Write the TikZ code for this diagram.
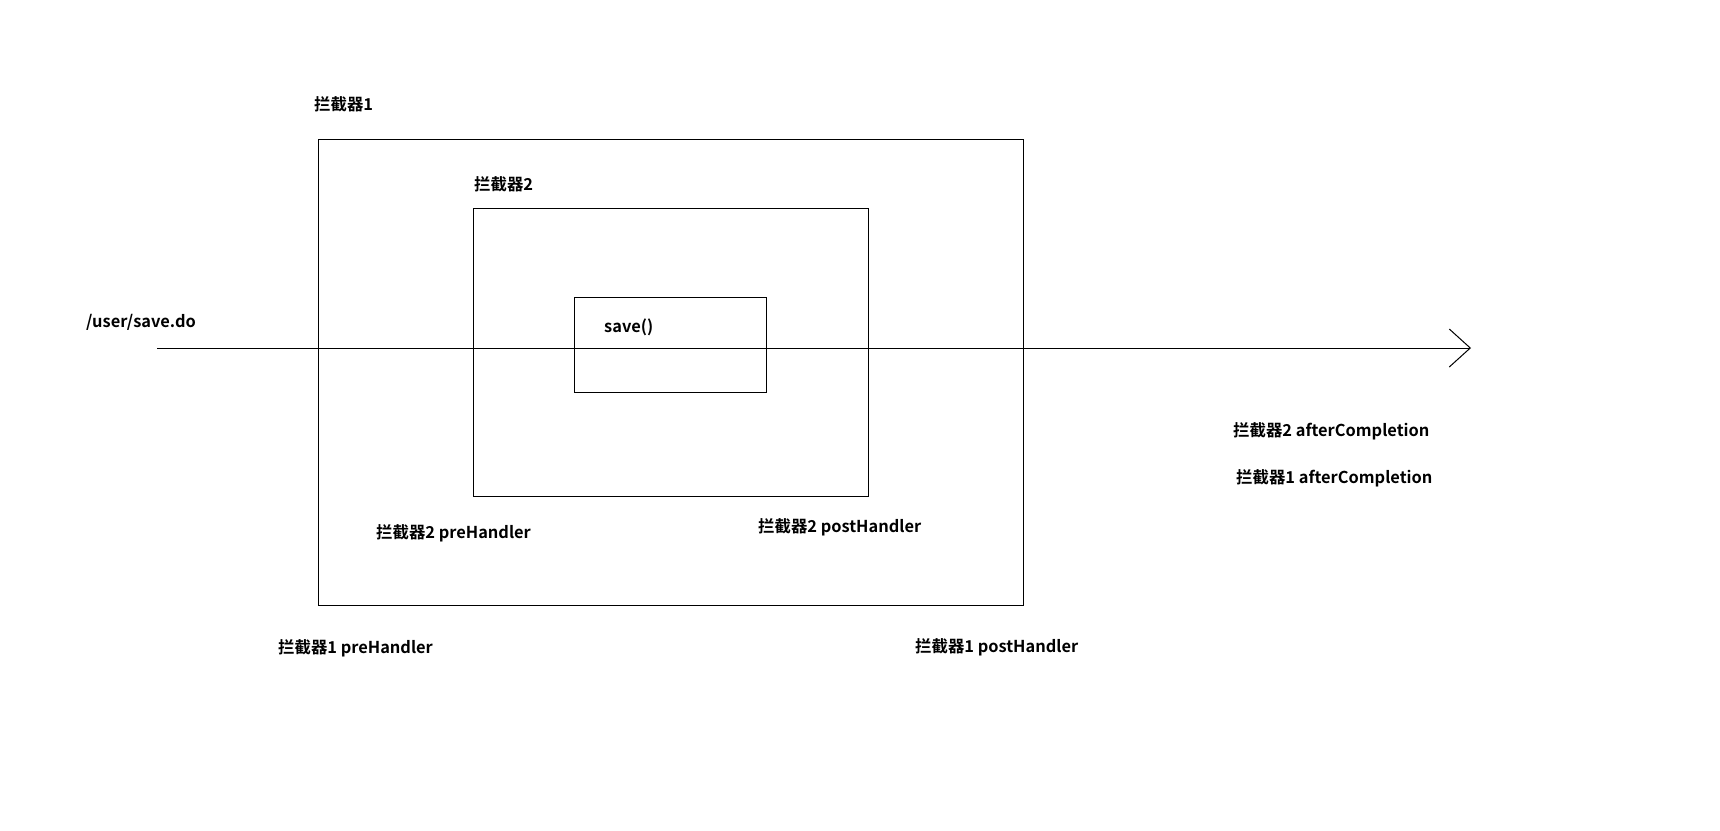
\documentclass[tikz,border=0pt]{standalone}
\usepackage{fontspec}
\setmainfont{Noto Sans CJK SC Bold}
\usetikzlibrary{arrows.meta}
\begin{document}
\begin{tikzpicture}[x=1pt,y=-1pt,
  boxstyle/.style={draw=black,line width=1pt,inner sep=0pt,anchor=north west},
  lbl/.style={anchor=west,inner sep=0pt,font=\fontsize{16.4}{19}\selectfont}]
\useasboundingbox (0,0) rectangle (1720,830);
\node[boxstyle,minimum width=705pt,minimum height=466pt] (outer) at (318,139) {};
\node[boxstyle,minimum width=395pt,minimum height=288pt] (inner) at (473,208) {};
\node[boxstyle,minimum width=192pt,minimum height=95pt] (core) at (574,297) {};
\coordinate (start) at (157,348);
\coordinate (end) at (1471,348);
\draw[line width=1pt,-{Straight Barb[length=21pt,width=38pt,line width=1pt]}] (start) -- (end);
\node[lbl] (l1) at (314,104) {拦截器1};
\node[lbl] (l2) at (474,184) {拦截器2};
\node[lbl] (url) at (86,322) {/user/save.do};
\node[lbl] (save) at (604,327) {save()};
\node[lbl] (pre2) at (376,533) {拦截器2 preHandler};
\node[lbl] (post2) at (758,527) {拦截器2 postHandler};
\node[lbl] (pre1) at (278,648) {拦截器1 preHandler};
\node[lbl] (post1) at (915,647) {拦截器1 postHandler};
\node[lbl] (after2) at (1233,431) {拦截器2 afterCompletion};
\node[lbl] (after1) at (1236,478) {拦截器1 afterCompletion};
\end{tikzpicture}
\end{document}
